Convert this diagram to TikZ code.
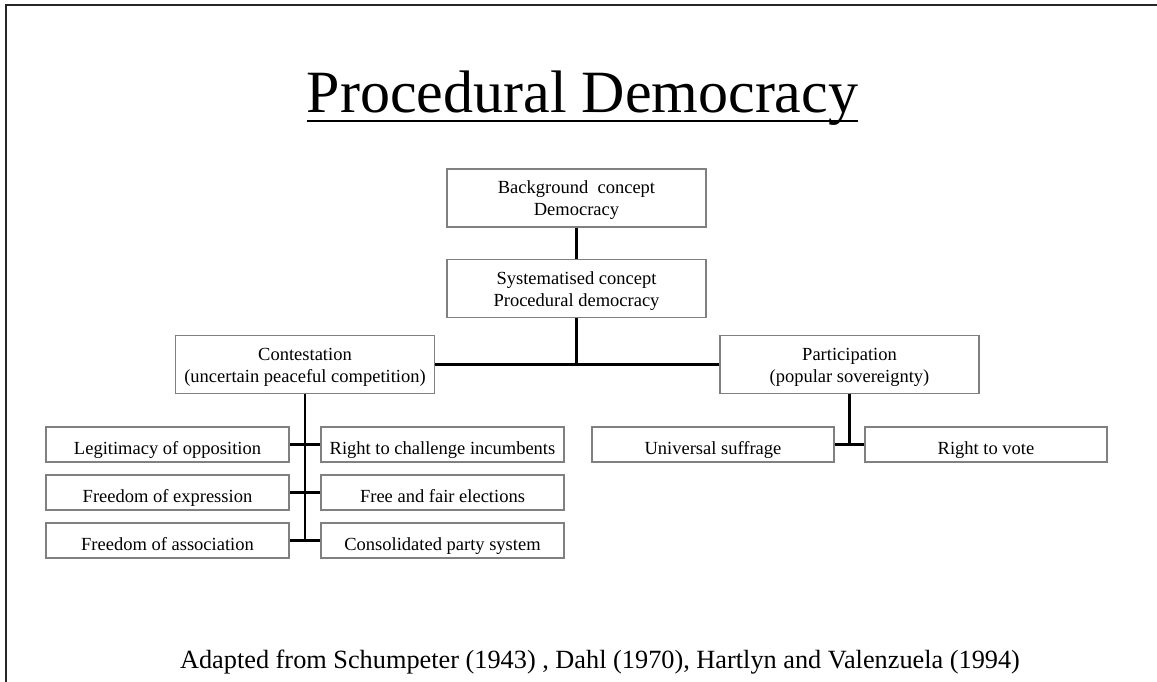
\documentclass[tikz,border=0pt]{standalone}
\usepackage{fontspec}
\setmainfont{Liberation Serif}
\begin{document}
\begin{tikzpicture}[x=1pt,y=-1pt,
  box/.style={draw=boxgray, line width=1.6pt, inner sep=0pt, align=center,
    font=\fontsize{18.5}{22}\selectfont},
  bigbox/.style={box, minimum width=259pt, minimum height=58pt},
  leaf/.style={box, minimum width=243pt, minimum height=35pt, text height=19pt, text depth=0pt},
  link/.style={line width=2.6pt, black}]
\definecolor{boxgray}{RGB}{128,128,128}
\useasboundingbox (0,0) rectangle (1157,682);
\draw[line width=2pt, black!85] (6,682) -- (6,5) -- (1157,5);

\node[anchor=base, inner sep=0pt, font=\fontsize{60}{60}\selectfont] (title) at (582.5,113) {Procedural Democracy};
\draw[line width=2.6pt] ([yshift=-8pt]title.base west) -- ([yshift=-8pt]title.base east);

\node[bigbox] (bg) at (576.5,198) {\rule{0pt}{17pt}Background\ \ concept\\Democracy};
\node[bigbox] (sys) at (576.5,288.5) {\rule{0pt}{17pt}Systematised concept\\Procedural democracy};
\node[bigbox] (con) at (305,364.5) {\rule{0pt}{17pt}Contestation\\(uncertain peaceful competition)};
\node[bigbox] (par) at (849.5,364.5) {\rule{0pt}{17pt}Participation\\(popular sovereignty)};

\node[leaf] (l1) at (167.5,444.5) {Legitimacy of opposition};
\node[leaf] (l2) at (167.5,492.5) {Freedom of expression};
\node[leaf] (l3) at (167.5,540.5) {Freedom of association};
\node[leaf] (r1) at (442.5,444.5) {Right to challenge incumbents};
\node[leaf] (r2) at (442.5,492.5) {Free and fair elections};
\node[leaf] (r3) at (442.5,540.5) {Consolidated party system};

\node[leaf, minimum width=242pt] (us) at (713,444.5) {Universal suffrage};
\node[leaf, minimum width=242pt] (rv) at (986,444.5) {Right to vote};

\coordinate (j1) at (sys.south |- con.east);
\coordinate (j2) at (con.south |- l3.east);
\coordinate (j3) at (par.south |- us.east);

\draw[link] (bg.south) -- (sys.north);
\draw[link] (sys.south) -- (j1);
\draw[link] (con.east) -- (par.west);
\draw[link] (con.south) -- (j2);
\draw[link] (l1.east) -- (r1.west);
\draw[link] (l2.east) -- (r2.west);
\draw[link] (l3.east) -- (r3.west);
\draw[link] (par.south) -- (j3);
\draw[link] (us.east) -- (rv.west);

\node[anchor=base, inner sep=0pt, font=\fontsize{26.3}{26.3}\selectfont] (src) at (600,668) {Adapted from Schumpeter (1943) , Dahl (1970), Hartlyn and Valenzuela (1994)};
\end{tikzpicture}
\end{document}
